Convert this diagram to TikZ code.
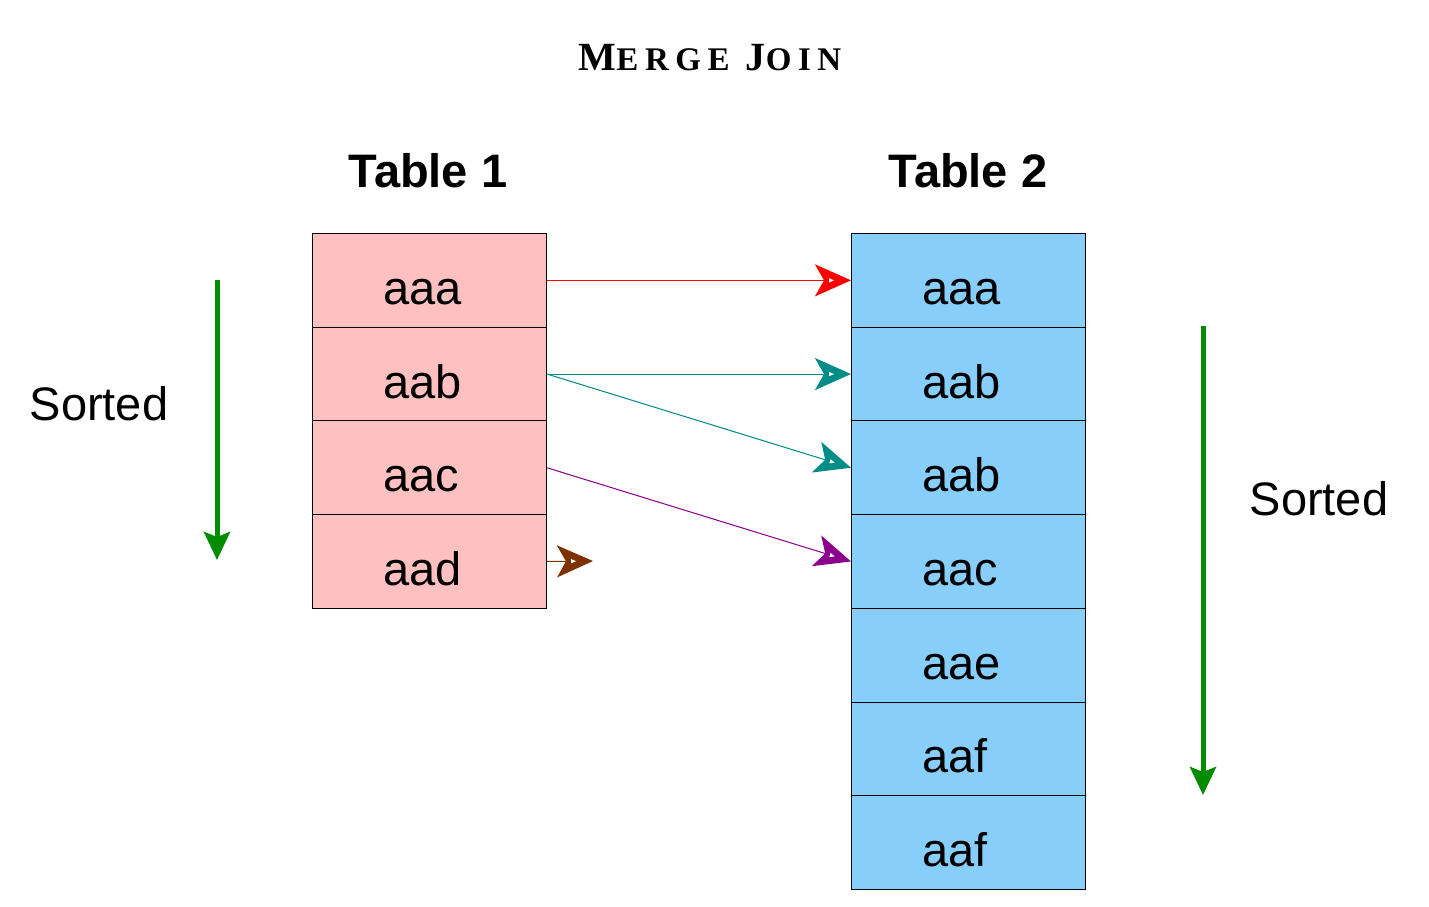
\documentclass[tikz,border=0pt]{standalone}
\usepackage{fontspec}
\setmainfont{Liberation Sans}
\newfontfamily\titlefont[LetterSpace=20]{Liberation Serif}
\usetikzlibrary{arrows.meta,decorations.markings}
\definecolor{pinkcell}{RGB}{255,192,192}
\definecolor{bluecell}{RGB}{135,206,250}
\definecolor{sortgreen}{RGB}{0,140,0}
\definecolor{tealarrow}{RGB}{0,140,135}
\definecolor{purplearrow}{RGB}{140,0,140}
\definecolor{brownarrow}{RGB}{125,50,0}
\definecolor{redarrow}{RGB}{255,0,0}
\tikzset{
  cell/.style={draw=black, line width=1pt, minimum height=93.7pt, text width=92pt,
    inner xsep=71pt, inner ysep=0pt, align=left, text height=48pt, text depth=0pt,
    font=\fontsize{47}{47}\selectfont, anchor=north west},
  cellone/.style={cell, fill=pinkcell},
  celltwo/.style={cell, fill=bluecell},
  header/.style={font=\bfseries\fontsize{47}{47}\selectfont, anchor=base},
  sortlabel/.style={font=\fontsize{47}{47}\selectfont, anchor=base},
  joinarrow/.style={line width=1pt, -{Stealth[length=36pt,width=32pt,inset=9pt,line width=1.5pt]},
    postaction={decorate, decoration={markings,
      mark=at position 1 with {\fill[white] (-22pt,-2.2pt) -- (-17pt,0pt) -- (-22pt,2.2pt) -- cycle;}}}},
  sortarrow/.style={draw=sortgreen, line width=5pt, -{Stealth[length=28pt,width=26pt,inset=5pt]}}
}
\begin{document}
\begin{tikzpicture}[x=1pt,y=-1pt]
\useasboundingbox (0,0) rectangle (1429,906);
\node[anchor=base] (title) at (710,70) {\titlefont\bfseries{\fontsize{40}{40}\selectfont M}{\fontsize{33}{33}\selectfont ERGE}\hspace{16pt}{\fontsize{40}{40}\selectfont J}{\fontsize{33}{33}\selectfont OIN}};
\node[header] (h1) at (428,187) {Table 1};
\node[header] (h2) at (968,187) {Table 2};
% Table 1
\node[cellone] (a1) at (312,233) {aaa};
\node[cellone] (a2) at (312,326.7) {aab};
\node[cellone] (a3) at (312,420.4) {aac};
\node[cellone] (a4) at (312,514.1) {aad};
% Table 2
\node[celltwo] (b1) at (851,233) {aaa};
\node[celltwo] (b2) at (851,326.7) {aab};
\node[celltwo] (b3) at (851,420.4) {aab};
\node[celltwo] (b4) at (851,514.1) {aac};
\node[celltwo] (b5) at (851,607.8) {aae};
\node[celltwo] (b6) at (851,701.5) {aaf};
\node[celltwo] (b7) at (851,795.2) {aaf};
% joins
\draw[joinarrow, draw=redarrow, fill=redarrow] (a1.east) -- (b1.west);
\draw[joinarrow, draw=tealarrow, fill=tealarrow] (a2.east) -- (b2.west);
\draw[joinarrow, draw=tealarrow, fill=tealarrow] (a2.east) -- (b3.west);
\draw[joinarrow, draw=purplearrow, fill=purplearrow] (a3.east) -- (b4.west);
\coordinate (aadend) at (593,561);
\draw[joinarrow, draw=brownarrow, fill=brownarrow] (a4.east) -- (aadend);
% sorted
\node[sortlabel] (s1) at (99,420) {Sorted};
\node[sortlabel] (s2) at (1319,515) {Sorted};
\coordinate (g1s) at (217,280);
\coordinate (g1e) at (217,560);
\coordinate (g2s) at (1203,326);
\coordinate (g2e) at (1203,795);
\draw[sortarrow] (g1s) -- (g1e);
\draw[sortarrow] (g2s) -- (g2e);
\end{tikzpicture}
\end{document}
